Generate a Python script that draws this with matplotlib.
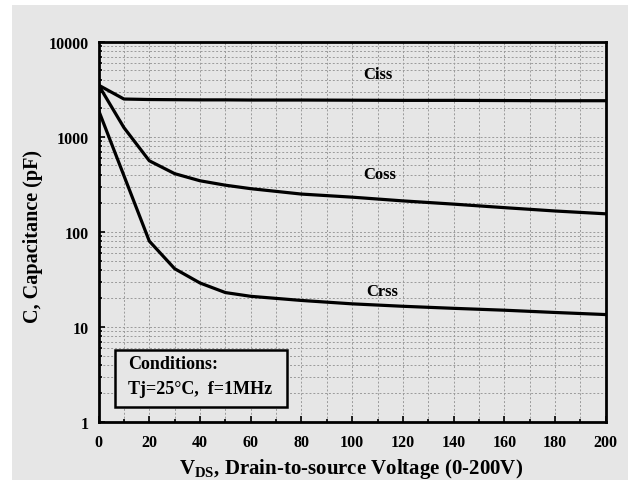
import numpy as np
import matplotlib.pyplot as plt
from matplotlib.ticker import FixedLocator, NullFormatter, LogLocator

plt.rcParams['font.family'] = ['Liberation Serif', 'DejaVu Serif']
plt.rcParams['font.weight'] = 'bold'
plt.rcParams['mathtext.fontset'] = 'custom'
plt.rcParams['mathtext.bf'] = 'Liberation Serif:bold'
plt.rcParams['mathtext.rm'] = 'Liberation Serif'

# data
vds = [0, 10, 20, 30, 40, 50, 60, 80, 100, 120, 140, 160, 180, 200]
ciss = [3500, 2500, 2470, 2460, 2450, 2450, 2440, 2440, 2430, 2420, 2420, 2410, 2400, 2400]
coss = [3500, 1250, 560, 410, 345, 310, 285, 250, 232, 212, 196, 180, 166, 155]
crss = [1900, 390, 80, 41, 29, 23, 21, 19, 17.5, 16.5, 15.7, 15, 14.2, 13.5]

xticks = [0, 20, 40, 60, 80, 100, 120, 140, 160, 180, 200]
yticks = [1, 10, 100, 1000, 10000]
ytick_labels = ['1', '10', '100', '1000', '10000']

bg = '#e6e6e6'
fig = plt.figure(figsize=(6.28, 4.81), dpi=100, facecolor='white')
# grey scan area, leaving a thin white strip at top and left
fig.patches.append(plt.Rectangle((12 / 628, 0), 1, 1 - 6 / 481, transform=fig.transFigure,
                                 facecolor=bg, edgecolor='none', zorder=-10))

ax = fig.add_axes([0.157, 0.1206, 0.8075, 0.7904], facecolor=bg)

ax.set_yscale('log')
ax.set_xlim(0, 200)
ax.set_ylim(1, 10000)

# dense grid like the scanned original
ax.xaxis.set_minor_locator(FixedLocator(np.arange(0, 201, 10)))
ax.yaxis.set_minor_locator(LogLocator(base=10, subs=np.arange(2, 10)))
ax.yaxis.set_minor_formatter(NullFormatter())
ax.grid(True, which='both', color='#9a9a9a', linestyle=(0, (2, 2)), linewidth=0.7)

ax.plot(vds, ciss, color='black', lw=2.3)
ax.plot(vds, coss, color='black', lw=2.3)
ax.plot(vds, crss, color='black', lw=2.3)

ax.text(110, 4600, 'Ciss', fontsize=12, fontweight='bold', ha='center', va='center')
ax.text(111, 410, 'Coss', fontsize=12, fontweight='bold', ha='center', va='center')
ax.text(112, 24, 'Crss', fontsize=12, fontweight='bold', ha='center', va='center')

ax.set_xticks(xticks)
ax.set_yticks(yticks)
ax.set_yticklabels(ytick_labels)
ax.tick_params(which='both', direction='in', labelsize=11.5, width=1.2)
ax.tick_params(which='major', length=4)
ax.tick_params(which='minor', length=2)
ax.tick_params(axis='x', pad=9)
ax.tick_params(axis='y', pad=7)
for lab in ax.get_xticklabels() + ax.get_yticklabels():
    lab.set_fontweight('bold')

for s in ax.spines.values():
    s.set_linewidth(2)

# conditions box
box = plt.Rectangle((0.032, 0.04), 0.339, 0.15, transform=ax.transAxes,
                    fill=True, facecolor=bg, edgecolor='black', lw=1.8, zorder=3)
ax.add_patch(box)
ax.text(0.058, 0.153, 'Conditions:', transform=ax.transAxes, fontsize=13,
        fontweight='bold', va='center', zorder=4)
ax.text(0.058, 0.087, 'Tj=25°C,  f=1MHz', transform=ax.transAxes, fontsize=13,
        fontweight='bold', va='center', zorder=4)

fig.text(0.0525, 0.509, 'C, Capacitance (pF)', rotation=90, fontsize=14.5,
         fontweight='bold', ha='center', va='center')
fig.text(0.559, 0.024, r'V$_{\mathbf{DS}}$, Drain-to-source Voltage (0-200V)', fontsize=15,
         fontweight='bold', ha='center', va='center')

fig.savefig('out.png', dpi=100, facecolor='white')
